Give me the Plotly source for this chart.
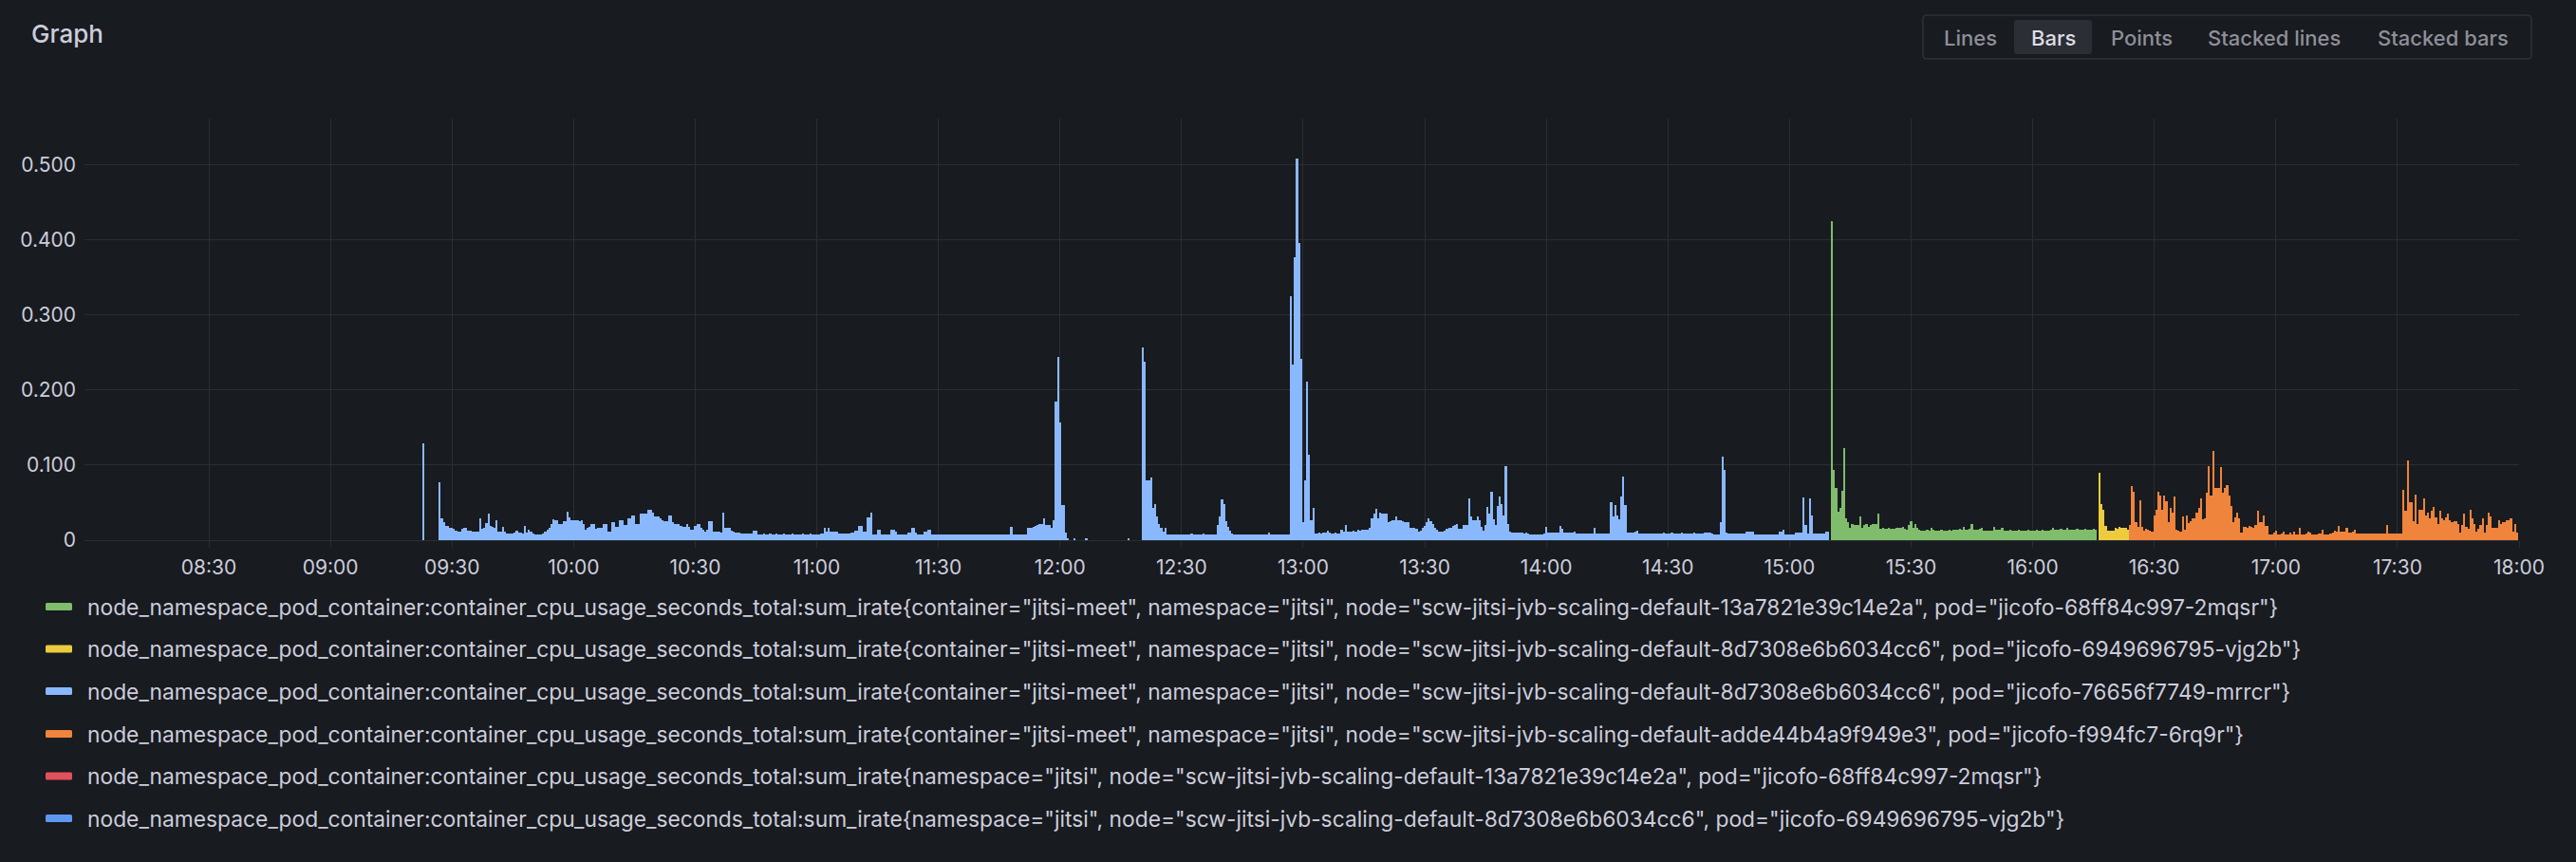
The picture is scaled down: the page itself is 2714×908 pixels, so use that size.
import plotly.graph_objects as go
import pandas as pd

DAY = "2023-05-10"
STEP = "30s"

# ---------------- data (30 s resolution) ----------------
blue_start = "09:23:00"   # jicofo-76656f7749-mrrcr
blue_vals = [
    0.129, None, None, None, None, None, None, None, 0.077, 0.029,
    0.024, 0.019, 0.019, 0.017, 0.016, 0.015, 0.013, 0.012, 0.012, 0.015,
    0.017, 0.016, 0.013, 0.013, 0.012, 0.011, 0.011, 0.012, 0.029, 0.015,
    0.016, 0.023, 0.035, 0.019, 0.018, 0.017, 0.027, 0.012, 0.011, 0.018,
    0.012, 0.009, 0.009, 0.009, 0.009, 0.010, 0.013, 0.010, 0.010, 0.009,
    0.019, 0.010, 0.014, 0.011, 0.009, 0.008, 0.008, 0.008, 0.008, 0.009,
    0.012, 0.014, 0.016, 0.022, 0.028, 0.026, 0.026, 0.021, 0.021, 0.025,
    0.025, 0.038, 0.030, 0.026, 0.026, 0.027, 0.027, 0.025, 0.026, 0.021,
    0.014, 0.016, 0.018, 0.021, 0.021, 0.015, 0.016, 0.017, 0.017, 0.021,
    0.021, 0.012, 0.012, 0.024, 0.024, 0.018, 0.018, 0.026, 0.026, 0.020,
    0.020, 0.029, 0.029, 0.033, 0.033, 0.022, 0.022, 0.035, 0.035, 0.036,
    0.036, 0.040, 0.040, 0.037, 0.031, 0.031, 0.031, 0.029, 0.027, 0.025,
    0.025, 0.033, 0.033, 0.024, 0.022, 0.022, 0.022, 0.019, 0.018, 0.018,
    0.021, 0.018, 0.014, 0.014, 0.019, 0.021, 0.021, 0.016, 0.014, 0.011,
    0.014, 0.025, 0.025, 0.011, 0.011, 0.011, 0.011, 0.010, 0.037, 0.016,
    0.016, 0.016, 0.013, 0.012, 0.010, 0.010, 0.010, 0.009, 0.009, 0.009,
    0.009, 0.009, 0.009, 0.013, 0.013, 0.008, 0.008, 0.008, 0.009, 0.008,
    0.008, 0.009, 0.008, 0.008, 0.009, 0.008, 0.008, 0.008, 0.009, 0.008,
    0.008, 0.008, 0.009, 0.008, 0.008, 0.008, 0.008, 0.009, 0.008, 0.008,
    0.008, 0.009, 0.008, 0.008, 0.008, 0.008, 0.009, 0.009, 0.017, 0.012,
    0.017, 0.011, 0.011, 0.011, 0.011, 0.009, 0.009, 0.009, 0.009, 0.009,
    0.009, 0.010, 0.010, 0.013, 0.013, 0.019, 0.019, 0.011, 0.011, 0.030,
    0.030, 0.037, 0.008, 0.007, 0.014, 0.014, 0.008, 0.007, 0.007, 0.007,
    0.007, 0.014, 0.014, 0.012, 0.007, 0.007, 0.007, 0.008, 0.008, 0.010,
    0.010, 0.016, 0.016, 0.010, 0.008, 0.008, 0.008, 0.011, 0.011, 0.014,
    0.014, 0.007, 0.007, 0.007, 0.007, 0.007, 0.007, 0.007, 0.007, 0.007,
    0.007, 0.007, 0.007, 0.007, 0.007, 0.007, 0.007, 0.007, 0.007, 0.007,
    0.007, 0.007, 0.007, 0.007, 0.007, 0.007, 0.007, 0.007, 0.007, 0.007,
    0.007, 0.007, 0.007, 0.008, 0.008, 0.008, 0.008, 0.008, 0.008, 0.008,
    0.018, 0.008, 0.008, 0.008, 0.008, 0.008, 0.008, 0.008, 0.016, 0.016,
    0.016, 0.018, 0.019, 0.020, 0.021, 0.021, 0.029, 0.020, 0.020, 0.020,
    0.016, 0.026, 0.184, 0.244, 0.157, 0.047, 0.047, 0.010, 0.003, None,
    None, 0.003, None, None, None, None, None, 0.003, None, None,
    None, None, None, None, None, None, None, None, None, None,
    None, None, None, None, None, None, None, None, 0.003, None,
    None, None, None, None, None, 0.257, 0.238, 0.080, 0.080, 0.083,
    0.043, 0.048, 0.031, 0.021, 0.016, 0.012, 0.017, 0.007, 0.007, 0.007,
    0.007, 0.007, 0.008, 0.008, 0.007, 0.008, 0.008, 0.007, 0.008, 0.009,
    0.008, 0.008, 0.007, 0.008, 0.008, 0.009, 0.008, 0.007, 0.007, 0.007,
    0.007, 0.007, 0.020, 0.032, 0.054, 0.048, 0.025, 0.018, 0.013, 0.009,
    0.007, 0.007, 0.008, 0.007, 0.007, 0.008, 0.007, 0.007, 0.007, 0.008,
    0.007, 0.007, 0.007, 0.008, 0.007, 0.007, 0.007, 0.010, 0.007, 0.007,
    0.007, 0.007, 0.008, 0.007, 0.007, 0.007, 0.008, 0.008, 0.325, 0.234,
    0.376, 0.508, 0.395, 0.241, 0.024, 0.079, 0.211, 0.114, 0.027, 0.043,
    0.009, 0.009, 0.010, 0.009, 0.010, 0.010, 0.013, 0.010, 0.009, 0.009,
    0.010, 0.009, 0.009, 0.014, 0.012, 0.020, 0.012, 0.012, 0.012, 0.013,
    0.012, 0.014, 0.013, 0.014, 0.014, 0.014, 0.014, 0.016, 0.029, 0.035,
    0.042, 0.029, 0.037, 0.035, 0.035, 0.035, 0.024, 0.025, 0.026, 0.027,
    0.031, 0.027, 0.027, 0.025, 0.024, 0.024, 0.024, 0.016, 0.016, 0.016,
    0.015, 0.012, 0.013, 0.016, 0.019, 0.024, 0.029, 0.025, 0.021, 0.016,
    0.014, 0.012, 0.012, 0.012, 0.013, 0.015, 0.016, 0.017, 0.019, 0.020,
    0.022, 0.015, 0.015, 0.020, 0.020, 0.020, 0.056, 0.031, 0.027, 0.027,
    0.031, 0.027, 0.018, 0.013, 0.020, 0.044, 0.035, 0.064, 0.028, 0.020,
    0.045, 0.058, 0.048, 0.033, 0.099, 0.022, 0.012, 0.010, 0.010, 0.010,
    0.010, 0.010, 0.010, 0.009, 0.010, 0.009, 0.008, 0.008, 0.008, 0.008,
    0.008, 0.008, 0.008, 0.009, 0.018, 0.010, 0.010, 0.010, 0.010, 0.010,
    0.010, 0.019, 0.015, 0.010, 0.010, 0.010, 0.010, 0.010, 0.012, 0.009,
    0.009, 0.009, 0.009, 0.009, 0.009, 0.009, 0.009, 0.009, 0.017, 0.009,
    0.009, 0.009, 0.009, 0.009, 0.009, 0.009, 0.051, 0.031, 0.047, 0.033,
    0.028, 0.058, 0.085, 0.047, 0.010, 0.010, 0.010, 0.010, 0.011, 0.013,
    0.009, 0.009, 0.009, 0.009, 0.009, 0.009, 0.009, 0.009, 0.009, 0.009,
    0.009, 0.009, 0.010, 0.009, 0.009, 0.009, 0.010, 0.009, 0.009, 0.009,
    0.009, 0.010, 0.009, 0.009, 0.009, 0.009, 0.009, 0.010, 0.009, 0.009,
    0.009, 0.009, 0.010, 0.010, 0.010, 0.010, 0.009, 0.008, 0.008, 0.008,
    0.024, 0.111, 0.094, 0.010, 0.009, 0.009, 0.009, 0.009, 0.009, 0.009,
    0.009, 0.009, 0.009, 0.012, 0.012, 0.012, 0.012, 0.008, 0.008, 0.008,
    0.008, 0.008, 0.008, 0.008, 0.008, 0.008, 0.008, 0.008, 0.008, 0.011,
    0.011, 0.014, 0.008, 0.008, 0.008, 0.008, 0.008, 0.010, 0.010, 0.010,
    0.010, 0.057, 0.020, 0.009, 0.055, 0.033, 0.009, 0.009, 0.009, 0.009,
    0.009, 0.009, 0.012, 0.012,
]

green_start = "15:10:30"   # jicofo-68ff84c997-2mqsr (container jitsi-meet)
green_vals = [
    0.424, 0.093, 0.069, 0.038, 0.043, 0.066, 0.122, 0.029, 0.024, 0.017,
    0.022, 0.020, 0.020, 0.020, 0.032, 0.017, 0.020, 0.021, 0.018, 0.020,
    0.021, 0.021, 0.021, 0.036, 0.015, 0.017, 0.015, 0.015, 0.016, 0.015,
    0.015, 0.015, 0.016, 0.016, 0.017, 0.018, 0.015, 0.014, 0.020, 0.025,
    0.016, 0.021, 0.017, 0.014, 0.013, 0.013, 0.013, 0.014, 0.013, 0.017,
    0.014, 0.013, 0.013, 0.013, 0.014, 0.013, 0.013, 0.013, 0.014, 0.013,
    0.014, 0.014, 0.014, 0.015, 0.014, 0.018, 0.014, 0.014, 0.015, 0.021,
    0.014, 0.014, 0.014, 0.015, 0.017, 0.013, 0.013, 0.013, 0.013, 0.013,
    0.018, 0.014, 0.014, 0.014, 0.017, 0.013, 0.013, 0.013, 0.014, 0.013,
    0.013, 0.013, 0.014, 0.013, 0.013, 0.013, 0.013, 0.014, 0.013, 0.013,
    0.013, 0.014, 0.013, 0.013, 0.014, 0.013, 0.013, 0.013, 0.014, 0.016,
    0.014, 0.014, 0.014, 0.015, 0.014, 0.014, 0.016, 0.014, 0.014, 0.014,
    0.014, 0.015, 0.014, 0.014, 0.014, 0.015, 0.014, 0.014, 0.014, 0.015, 0.014,
]

yellow_start = "16:16:30"   # jicofo-6949696795-vjg2b (container jitsi-meet)
yellow_vals = [
    0.090, 0.048, 0.040, 0.019, 0.013, 0.013, 0.013, 0.013, 0.016, 0.015,
    0.018, 0.016, 0.016, 0.016, 0.014,
]

orange_start = "16:24:00"   # jicofo-f994fc7-6rq9r
orange_vals = [
    0.020, 0.072, 0.064, 0.024, 0.018, 0.053, 0.018, 0.013, 0.015, 0.014,
    0.013, 0.011, 0.033, 0.040, 0.064, 0.060, 0.040, 0.059, 0.052, 0.024,
    0.043, 0.037, 0.058, 0.014, 0.013, 0.012, 0.031, 0.014, 0.033, 0.023,
    0.025, 0.029, 0.029, 0.037, 0.043, 0.055, 0.028, 0.029, 0.063, 0.099,
    0.060, 0.119, 0.070, 0.069, 0.069, 0.097, 0.063, 0.069, 0.073, 0.060,
    0.046, 0.024, 0.030, 0.037, 0.029, 0.010, 0.018, 0.018, 0.017, 0.019,
    0.018, 0.016, 0.020, 0.039, 0.024, 0.024, 0.033, 0.019, 0.019, 0.008,
    0.007, 0.010, 0.013, 0.007, 0.008, 0.009, 0.011, 0.008, 0.008, 0.010,
    0.008, 0.011, 0.008, 0.008, 0.017, 0.008, 0.008, 0.009, 0.012, 0.010,
    0.008, 0.008, 0.008, 0.009, 0.009, 0.014, 0.008, 0.008, 0.008, 0.009,
    0.010, 0.013, 0.011, 0.019, 0.011, 0.011, 0.012, 0.017, 0.010, 0.010,
    0.011, 0.014, 0.009, 0.009, 0.009, 0.009, 0.009, 0.009, 0.009, 0.009,
    0.009, 0.009, 0.009, 0.009, 0.009, 0.009, 0.009, 0.020, 0.009, 0.009,
    0.009, 0.009, 0.009, 0.009, 0.009, 0.067, 0.039, 0.106, 0.051, 0.050,
    0.025, 0.061, 0.022, 0.041, 0.041, 0.056, 0.033, 0.037, 0.029, 0.039,
    0.044, 0.030, 0.022, 0.039, 0.029, 0.026, 0.030, 0.035, 0.026, 0.024,
    0.025, 0.025, 0.022, 0.010, 0.020, 0.035, 0.018, 0.015, 0.041, 0.029,
    0.021, 0.011, 0.015, 0.020, 0.029, 0.010, 0.020, 0.037, 0.031, 0.016,
    0.016, 0.016, 0.027, 0.022, 0.024, 0.024, 0.027, 0.027, 0.029, 0.012,
    0.022, 0.010,
]

legend_labels = [
    'node_namespace_pod_container:container_cpu_usage_seconds_total:sum_irate{container="jitsi-meet", namespace="jitsi", node="scw-jitsi-jvb-scaling-default-13a7821e39c14e2a", pod="jicofo-68ff84c997-2mqsr"}',
    'node_namespace_pod_container:container_cpu_usage_seconds_total:sum_irate{container="jitsi-meet", namespace="jitsi", node="scw-jitsi-jvb-scaling-default-8d7308e6b6034cc6", pod="jicofo-6949696795-vjg2b"}',
    'node_namespace_pod_container:container_cpu_usage_seconds_total:sum_irate{container="jitsi-meet", namespace="jitsi", node="scw-jitsi-jvb-scaling-default-8d7308e6b6034cc6", pod="jicofo-76656f7749-mrrcr"}',
    'node_namespace_pod_container:container_cpu_usage_seconds_total:sum_irate{container="jitsi-meet", namespace="jitsi", node="scw-jitsi-jvb-scaling-default-adde44b4a9f949e3", pod="jicofo-f994fc7-6rq9r"}',
    'node_namespace_pod_container:container_cpu_usage_seconds_total:sum_irate{namespace="jitsi", node="scw-jitsi-jvb-scaling-default-13a7821e39c14e2a", pod="jicofo-68ff84c997-2mqsr"}',
    'node_namespace_pod_container:container_cpu_usage_seconds_total:sum_irate{namespace="jitsi", node="scw-jitsi-jvb-scaling-default-8d7308e6b6034cc6", pod="jicofo-6949696795-vjg2b"}',
]
legend_colors = ["#7fbc6c", "#eccb3f", "#8ab8ff", "#ef843c", "#e0515b", "#5d97f0"]

x_tick_times = pd.date_range(f"{DAY} 08:30", f"{DAY} 18:00", freq="30min")
y_tick_vals = [0, 0.1, 0.2, 0.3, 0.4, 0.5]
y_tick_text = ["0", "0.100", "0.200", "0.300", "0.400", "0.500"]
mode_buttons = ["Lines", "Bars", "Points", "Stacked lines", "Stacked bars"]
active_button = "Bars"

# ---------------- styling ----------------
BG = "#181b1f"
TXT = "#ccccdc"
GRID = "#2a2d32"
FONT = "Inter, Roboto, 'Open Sans', sans-serif"
W, H = 2714, 908
PL, PR, PT, PB = 89, 2654, 125, 569  # plot area in px

def px2x(px):
    return (px - PL) / (PR - PL)

def py2y(py):
    return (PB - py) / (PB - PT)

def rrect(x0, y0, x1, y1, r):
    X = px2x
    Y = py2y
    return (f"M {X(x0+r)} {Y(y0)} L {X(x1-r)} {Y(y0)} Q {X(x1)} {Y(y0)} {X(x1)} {Y(y0+r)} "
            f"L {X(x1)} {Y(y1-r)} Q {X(x1)} {Y(y1)} {X(x1-r)} {Y(y1)} "
            f"L {X(x0+r)} {Y(y1)} Q {X(x0)} {Y(y1)} {X(x0)} {Y(y1-r)} "
            f"L {X(x0)} {Y(y0+r)} Q {X(x0)} {Y(y0)} {X(x0+r)} {Y(y0)} Z")

fig = go.Figure()

bar_series = [
    (blue_start, blue_vals, legend_colors[2]),
    (green_start, green_vals, legend_colors[0]),
    (yellow_start, yellow_vals, legend_colors[1]),
    (orange_start, orange_vals, legend_colors[3]),
]
for start, vals, color in bar_series:
    xs = pd.date_range(f"{DAY} {start}", periods=len(vals), freq=STEP)
    fig.add_trace(go.Bar(
        x=xs, y=vals, width=30000, marker=dict(color=color, line=dict(width=0)),
        showlegend=False, hoverinfo="skip"))

shapes = []
annotations = []

# title
annotations.append(dict(text="Graph", x=px2x(31), y=py2y(36), xref="paper", yref="paper",
                        xanchor="left", yanchor="middle", showarrow=False,
                        font=dict(family=FONT, size=26, color=TXT, weight=500)))

# mode button group
shapes.append(dict(type="path", path=rrect(2026, 16, 2667, 62, 4), xref="paper", yref="paper",
                   line=dict(color="#2f3237", width=1.5), fillcolor=BG, layer="above"))
btn_centers = [2076, 2163, 2256, 2396, 2574]
for lab, cx in zip(mode_buttons, btn_centers):
    if lab == active_button:
        shapes.append(dict(type="path", path=rrect(2122, 21, 2204, 57, 3), xref="paper", yref="paper",
                           line=dict(width=0), fillcolor="#2b2e34", layer="above"))
    annotations.append(dict(text=lab, x=px2x(cx), y=py2y(40), xref="paper", yref="paper",
                            xanchor="center", yanchor="middle", showarrow=False,
                            font=dict(family=FONT, size=22, weight=500,
                                      color="#dcdde6" if lab == active_button else "#8e8f99")))

# legend
row_y = [639, 683.5, 728, 773, 817.5, 862]
for lab, col, ry in zip(legend_labels, legend_colors, row_y):
    shapes.append(dict(type="path", path=rrect(48, ry - 4, 76, ry + 4, 1.5), xref="paper", yref="paper",
                       line=dict(width=0), fillcolor=col, layer="above"))
    annotations.append(dict(text=lab, x=px2x(90), y=py2y(ry), xref="paper", yref="paper",
                            xanchor="left", yanchor="middle", showarrow=False,
                            font=dict(family=FONT, size=22.8, color=TXT)))

fig.update_layout(
    width=W, height=H,
    margin=dict(l=PL, r=W - PR, t=PT, b=H - PB, pad=0),
    paper_bgcolor=BG, plot_bgcolor=BG,
    barmode="overlay", bargap=0,
    showlegend=False,
    shapes=shapes, annotations=annotations,
    font=dict(family=FONT, color=TXT),
    xaxis=dict(
        type="date",
        range=[f"{DAY} 07:59:19", f"{DAY} 18:00:00"],
        tickmode="array", tickvals=list(x_tick_times),
        ticktext=[t.strftime("%H:%M") for t in x_tick_times],
        showgrid=True, gridcolor=GRID, gridwidth=1,
        ticks="outside", ticklen=7, tickcolor=GRID, tickwidth=1,
        ticklabelstandoff=3,
        tickfont=dict(family=FONT, size=21, color=TXT),
        showline=False, zeroline=False, fixedrange=True,
    ),
    yaxis=dict(
        range=[0, 0.561],
        tickvals=y_tick_vals, ticktext=y_tick_text,
        showgrid=True, gridcolor=GRID, gridwidth=1,
        zeroline=True, zerolinecolor=GRID, zerolinewidth=1,
        ticks="", ticklabelstandoff=8,
        tickfont=dict(family=FONT, size=21, color=TXT),
        showline=False, fixedrange=True,
    ),
)

fig.write_html("out.html", config={"displayModeBar": False},
               post_script="document.body.style.margin='0';document.body.style.backgroundColor='#181b1f';")
